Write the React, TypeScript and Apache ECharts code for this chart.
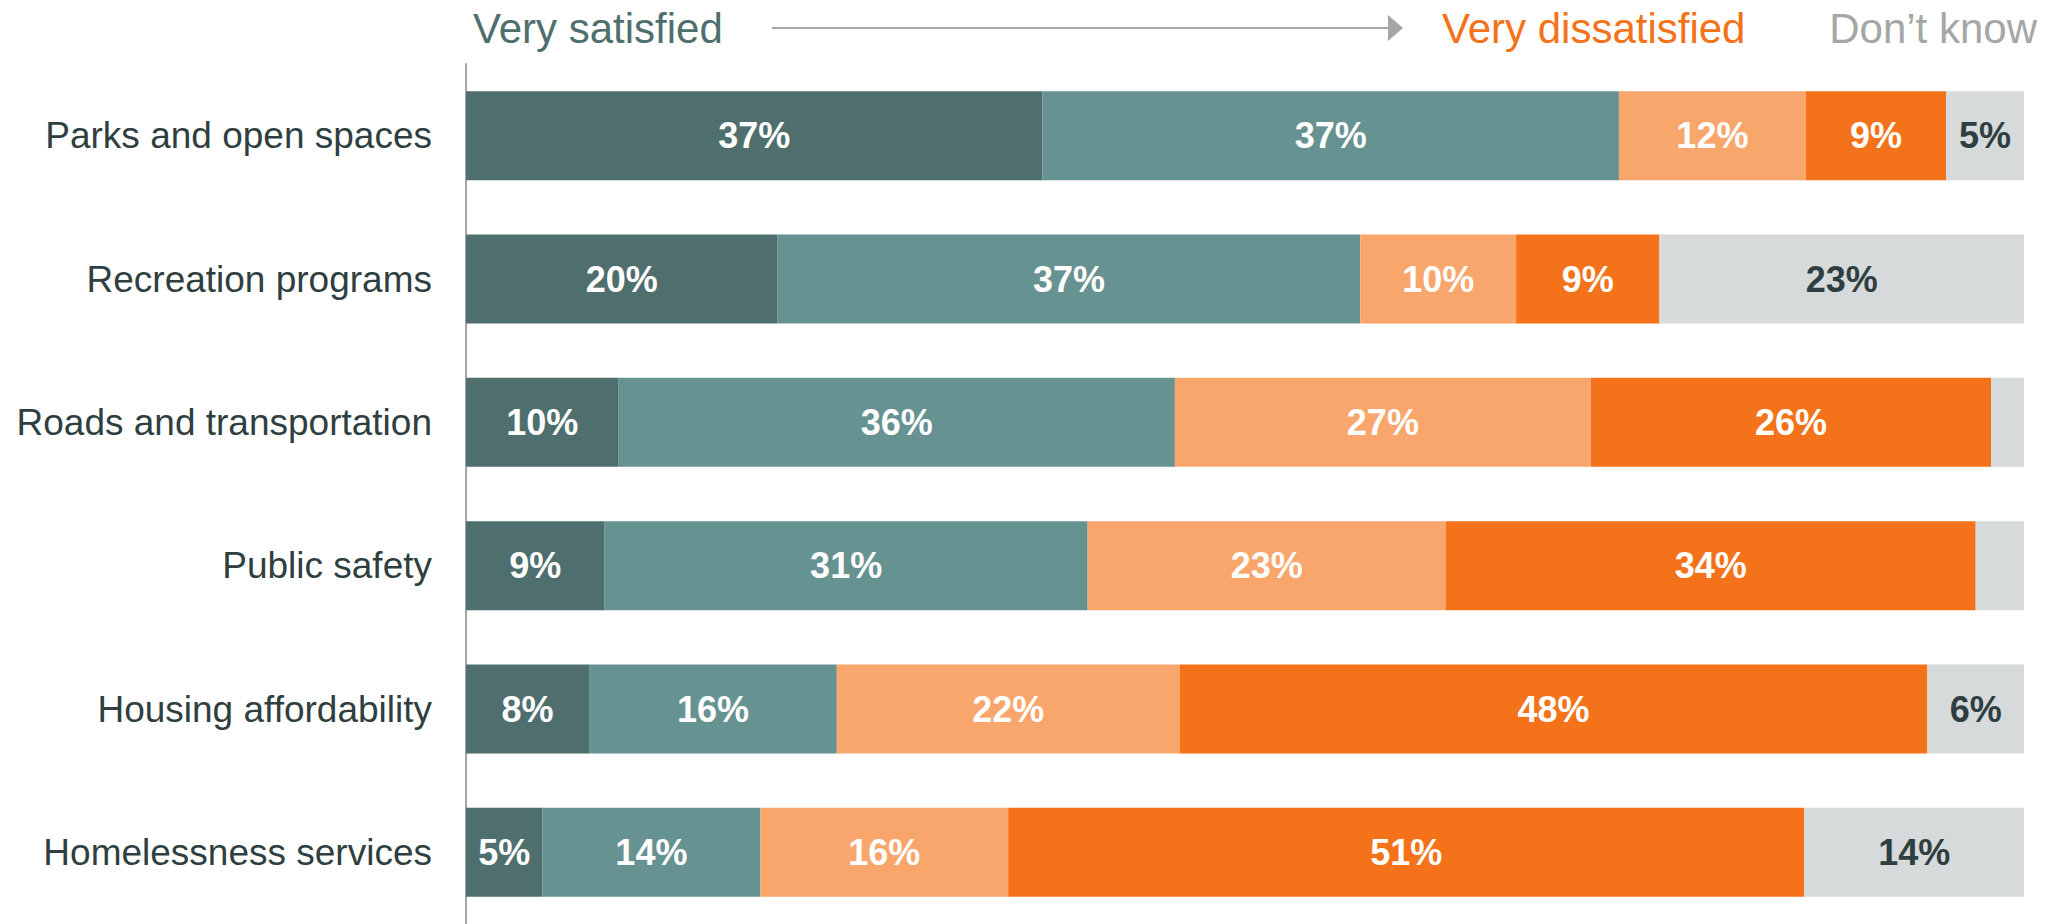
import React, { useEffect, useRef } from "react";
import * as echarts from "echarts";

const categories = [
  "Parks and open spaces",
  "Recreation programs",
  "Roads and transportation",
  "Public safety",
  "Housing affordability",
  "Homelessness services",
];
const seriesNames = ["Very satisfied", "Satisfied", "Dissatisfied", "Very dissatisfied", "Don’t know"];
const verySatisfied = [37, 20, 9.8, 8.9, 7.9, 4.9];
const satisfied = [37, 37.4, 35.7, 31, 15.9, 14];
const dissatisfied = [12, 10, 26.7, 23, 22, 15.9];
const veryDissatisfied = [9, 9.2, 25.7, 34, 48, 51.1];
const dontKnow = [5, 23.4, 2.1, 3.1, 6.2, 14.1];

const colors = ["#4f6e6e", "#679292", "#f9a66c", "#f47219", "#d6dadb"];
const labelColors = ["#ffffff", "#ffffff", "#ffffff", "#ffffff", "#2f3f41"];
const FONT = "'Liberation Sans', Arial, Helvetica, sans-serif";

export default function App() {
  const ref = useRef<HTMLDivElement>(null);
  useEffect(() => {
    if (!ref.current) return;
    const chart = echarts.init(ref.current, null, { renderer: "svg" });
    const allData = [verySatisfied, satisfied, dissatisfied, veryDissatisfied, dontKnow];
    chart.setOption({
      animation: false,
      textStyle: { fontFamily: FONT },
      grid: { left: 466, top: 64, width: 1558, height: 868, containLabel: false },
      xAxis: { type: "value", min: 0, max: 100, show: false },
      yAxis: {
        type: "category",
        data: categories,
        inverse: true,
        axisLine: { show: true, lineStyle: { color: "#a6a6a6", width: 2 } },
        axisTick: { show: false },
        splitLine: { show: false },
        axisLabel: { margin: 34, fontSize: 37, color: "#2f3f41", fontFamily: FONT },
      },
      series: allData.map((d, i) => ({
        type: "bar",
        name: seriesNames[i],
        stack: "total",
        data: d,
        barWidth: 89,
        itemStyle: { color: colors[i] },
        label: {
          show: true,
          position: "inside",
          fontSize: 36,
          fontWeight: "bold",
          fontFamily: FONT,
          color: labelColors[i],
          formatter: (p: any) => (p.value < 4 ? "" : Math.round(p.value) + "%"),
        },
      })),
      graphic: [
        {
          type: "text",
          left: 473,
          top: 7,
          style: { text: "Very satisfied", fontSize: 42, fill: "#4f6e6e", fontFamily: FONT },
        },
        {
          type: "line",
          shape: { x1: 772, y1: 28, x2: 1392, y2: 28 },
          style: { stroke: "#a6a6a6", lineWidth: 2 },
        },
        {
          type: "polygon",
          shape: { points: [[1388, 15], [1403, 28], [1388, 41]] },
          style: { fill: "#a6a6a6" },
        },
        {
          type: "text",
          left: 1442,
          top: 7,
          style: { text: "Very dissatisfied", fontSize: 42, fill: "#f47219", fontFamily: FONT },
        },
        {
          type: "text",
          right: 22,
          top: 7,
          style: { text: "Don’t know", fontSize: 42, fill: "#a6a6a6", fontFamily: FONT },
        },
      ],
    });
    return () => chart.dispose();
  }, []);
  return (
    <div
      ref={ref}
      style={{ position: "absolute", left: 0, top: 0, width: 2059, height: 924, background: "#fff" }}
    />
  );
}
